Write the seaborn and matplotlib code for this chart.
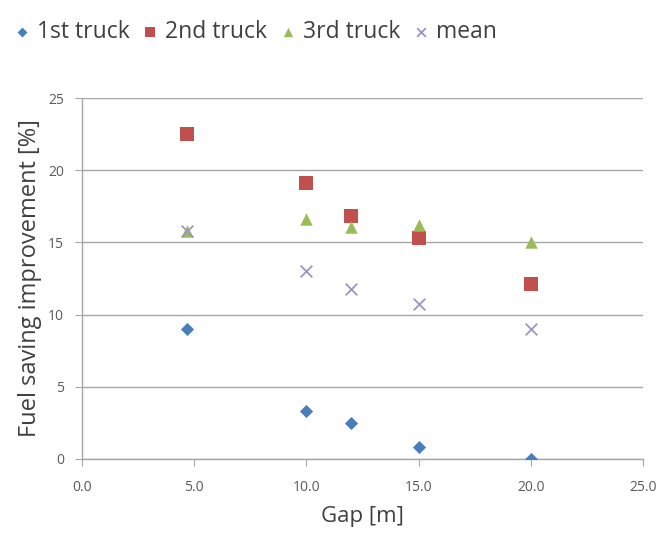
import seaborn as sns
import matplotlib.pyplot as plt
import pandas as pd

gap = [4.7, 10.0, 12.0, 15.0, 20.0]
truck_1 = [9.0, 3.3, 2.5, 0.85, 0.0]
truck_2 = [22.5, 19.1, 16.8, 15.3, 12.1]
truck_3 = [15.8, 16.6, 16.1, 16.2, 15.0]
mean = [15.8, 13.0, 11.8, 10.7, 9.0]

labels = ["1st truck", "2nd truck", "3rd truck", "mean"]
colors = ["#4A7EBB", "#C0504D", "#9BBB59", "#9C95C4"]
markers = ["D", "s", "^", "x"]

df = pd.DataFrame({
    "gap": gap * 4,
    "value": truck_1 + truck_2 + truck_3 + mean,
    "series": [l for l in labels for _ in gap],
})

sns.set_style("white")
plt.rcParams["font.family"] = ["Open Sans", "DejaVu Sans"]

fig = plt.figure(figsize=(6.59, 5.33), dpi=100)
ax = fig.add_axes([82 / 659, 1 - 459 / 533, (643 - 82) / 659, (459 - 98) / 533])

sizes = {"1st truck": 45, "2nd truck": 90, "3rd truck": 80, "mean": 70}
for lab, col, mk in zip(labels, colors, markers):
    sub = df[df["series"] == lab]
    sns.scatterplot(
        data=sub, x="gap", y="value", color=col, marker=mk,
        s=sizes[lab], linewidth=1.3 if mk == "x" else 0, label=lab, ax=ax,
        zorder=3,
    )

ax.set_xlim(0, 25)
ax.set_ylim(0, 25)
ax.set_xticks([0, 5, 10, 15, 20, 25])
ax.set_xticklabels([f"{v:.1f}" for v in [0, 5, 10, 15, 20, 25]])
ax.set_yticks([0, 5, 10, 15, 20, 25])
ax.yaxis.grid(True, color="#A6A6A6", linewidth=1.0)
ax.set_axisbelow(True)
for side in ["top", "right"]:
    ax.spines[side].set_visible(False)
for side in ["left", "bottom"]:
    ax.spines[side].set_color("#A6A6A6")
    ax.spines[side].set_linewidth(1.0)
ax.tick_params(axis="both", which="both", direction="out", length=5,
               color="#A6A6A6", labelsize=10, labelcolor="#595959",
               bottom=True, left=True)
ax.tick_params(axis="x", pad=10)
ax.tick_params(axis="y", pad=8)
ax.set_xlabel("Gap [m]", fontsize=16, color="#404040", labelpad=8)
ax.set_ylabel("Fuel saving improvement [%]", fontsize=17, color="#404040", labelpad=4)

ax.legend(loc="upper left", bbox_to_anchor=(-76 / 561, 1 + 87 / 361), ncol=4,
          frameon=False, fontsize=16.5, handlelength=0.6, handletextpad=0.35,
          columnspacing=0.6, markerscale=0.75, labelcolor="#404040",
          borderaxespad=0)

fig.savefig("out.png", dpi=100)
